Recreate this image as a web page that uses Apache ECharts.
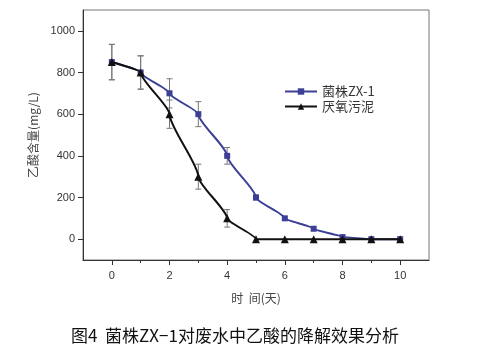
<!DOCTYPE html>
<html>
<head>
<meta charset="utf-8">
<script src="https://cdn.jsdelivr.net/npm/echarts@6/dist/echarts.min.js"></script>
<style>
  html,body{margin:0;padding:0;background:#fff;}
  #main{width:480px;height:354px;}
</style>
</head>
<body>
<div id="main"></div>
<script>
// 时间(天)
var days = [0, 1, 2, 3, 4, 5, 6, 7, 8, 9, 10];
// 菌株ZX-1
var zx1 = [850, 800, 700, 600, 400, 200, 100, 50, 10, 0, 0];
var zx1Err = [85, 80, 70, 60, 40, 12, 0, 0, 0, 0, 0];
// 厌氧污泥
var sludge = [850, 800, 600, 300, 100, 0, 0, 0, 0, 0, 0];
var sludgeErr = [85, 80, 68, 60, 42, 0, 0, 0, 0, 0, 0];
var xLabels = [0, 2, 4, 6, 8, 10];
var xMinor = [1, 3, 5, 7, 9];
var yLabels = [0, 200, 400, 600, 800, 1000];

function pairs(ys){
  return days.map(function(d, i){ return [d, ys[i]]; });
}
function errData(ys, es){
  var out = [];
  for (var i = 0; i < days.length; i++) {
    if (es[i] > 0) out.push([days[i], ys[i], es[i]]);
  }
  return out;
}
function errBar(params, api){
  var x = api.value(0), y = api.value(1), e = api.value(2);
  var top = api.coord([x, y + e]);
  var bot = api.coord([x, y - e]);
  var w = 3;
  var st = {stroke: '#777', lineWidth: 1};
  return {
    type: 'group',
    children: [
      {type: 'line', shape: {x1: top[0], y1: top[1], x2: bot[0], y2: bot[1]}, style: st},
      {type: 'line', shape: {x1: top[0] - w, y1: top[1], x2: top[0] + w, y2: top[1]}, style: st},
      {type: 'line', shape: {x1: bot[0] - w, y1: bot[1], x2: bot[0] + w, y2: bot[1]}, style: st}
    ]
  };
}

var myChart = echarts.init(document.getElementById('main'));
myChart.setOption({
  animation: false,
  title: {
    text: '图4  菌株ZX−1对废水中乙酸的降解效果分析',
    left: 66,
    top: 322,
    textStyle: {fontFamily: 'Noto Sans CJK SC', fontSize: 17, fontWeight: 'normal', color: '#111'}
  },
  legend: {
    orient: 'vertical',
    left: 279,
    top: 80,
    itemWidth: 32,
    itemHeight: 8,
    itemGap: 2,
    textStyle: {fontFamily: 'Noto Sans CJK SC', fontSize: 13, color: '#333'},
    data: ['菌株ZX-1', '厌氧污泥']
  },
  grid: {
    left: 83, top: 10, right: 51, bottom: 94,
    show: true, borderColor: '#777', borderWidth: 1
  },
  xAxis: [{
    type: 'value',
    min: -1, max: 11,
    name: '时  间(天)',
    nameLocation: 'middle',
    nameGap: 32,
    nameTextStyle: {fontFamily: 'Noto Sans CJK SC', fontSize: 12, color: '#444'},
    splitLine: {show: false},
    axisLine: {onZero: false, lineStyle: {color: '#333', width: 1}},
    axisTick: {customValues: xLabels, length: 5, lineStyle: {color: '#333'}},
    axisLabel: {customValues: xLabels, color: '#333', fontSize: 11, margin: 10}
  }, {
    type: 'value',
    position: 'bottom',
    min: -1, max: 11,
    splitLine: {show: false},
    axisLine: {show: false, onZero: false},
    axisTick: {customValues: xMinor, length: 3, lineStyle: {color: '#333'}},
    axisLabel: {show: false}
  }],
  yAxis: {
    type: 'value',
    min: -100, max: 1100,
    name: '乙酸含量(mg/L)',
    nameLocation: 'middle',
    nameGap: 39,
    nameTextStyle: {fontFamily: 'Noto Sans CJK SC', fontSize: 12, color: '#444'},
    splitLine: {show: false},
    axisLine: {show: true, onZero: false, lineStyle: {color: '#333', width: 1}},
    axisTick: {show: true, customValues: yLabels, length: 5, lineStyle: {color: '#333'}},
    axisLabel: {
      customValues: yLabels, color: '#333', fontSize: 11, margin: 8,
      formatter: function(v){ return String(v); }
    }
  },
  series: [{
    name: 'zx1err',
    type: 'custom',
    renderItem: errBar,
    data: errData(zx1, zx1Err),
    z: 1
  }, {
    name: 'sludgeerr',
    type: 'custom',
    renderItem: errBar,
    data: errData(sludge, sludgeErr),
    z: 1
  }, {
    name: '菌株ZX-1',
    type: 'line',
    smooth: 0.2,
    smoothMonotone: 'y',
    data: pairs(zx1),
    symbol: 'rect',
    symbolSize: 6,
    color: '#3b3f96',
    lineStyle: {width: 2, color: '#3b3f96'},
    itemStyle: {color: '#3b3f96'},
    z: 3
  }, {
    name: '厌氧污泥',
    type: 'line',
    smooth: 0.2,
    smoothMonotone: 'y',
    data: pairs(sludge),
    symbol: 'triangle',
    symbolSize: 8,
    color: '#111',
    lineStyle: {width: 2, color: '#111'},
    itemStyle: {color: '#111'},
    z: 4
  }]
});
</script>
</body>
</html>
